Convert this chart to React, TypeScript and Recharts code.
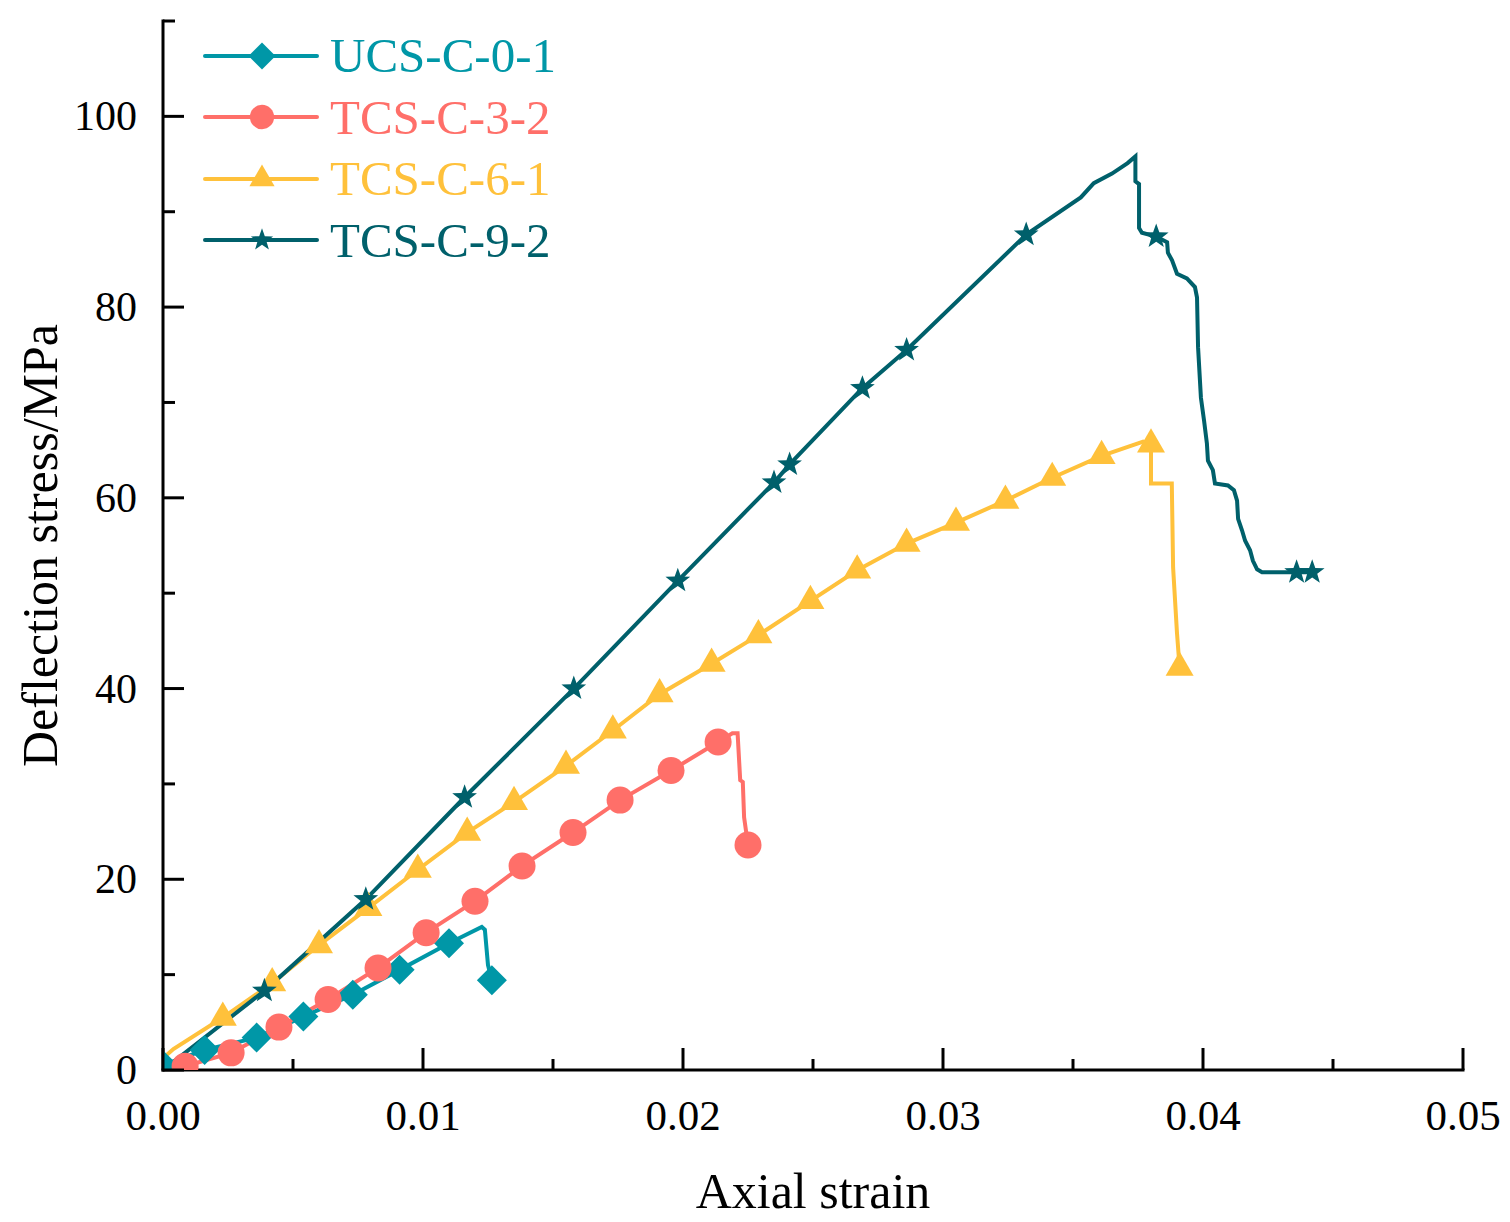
import React from 'react';
import { ComposedChart, Line, Scatter, XAxis, YAxis, Legend } from 'recharts';

if (typeof document !== 'undefined') document.body.style.margin = '0';

const FONT = '"Liberation Serif", "Times New Roman", serif';

const SERIES_NAMES = ['UCS-C-0-1', 'TCS-C-3-2', 'TCS-C-6-1', 'TCS-C-9-2'];
const SERIES_COLORS = ['#0097A7', '#FF6F69', '#FFC13B', '#00606B'];
const SERIES_MARKERS = ['diamond', 'circle', 'triangle', 'star'];

// [axial strain, deflection stress MPa]
const ucs01: [number, number][] = [
  [0, 0.5], [0.0016, 2.1], [0.0036, 3.4], [0.0054, 5.6], [0.0073, 7.9],
  [0.0091, 10.5], [0.011, 13.3], [0.01226, 15.0], [0.01238, 14.7],
  [0.0125, 11.0], [0.01265, 9.4],
];
const ucs01Marks = [0, 1, 2, 3, 4, 5, 6, 10];

const tcs32: [number, number][] = [
  [0, 0], [0.00085, 0.4], [0.00262, 1.8], [0.00446, 4.5], [0.00635, 7.4],
  [0.00827, 10.7], [0.01012, 14.4], [0.012, 17.7], [0.01381, 21.4],
  [0.01577, 24.9], [0.01758, 28.3], [0.01954, 31.4], [0.02135, 34.4],
  [0.0219, 35.3], [0.0221, 35.3], [0.0222, 30.4], [0.0223, 30.2],
  [0.02235, 26.5], [0.0225, 23.6],
];
const tcs32Marks = [1, 2, 3, 4, 5, 6, 7, 8, 9, 10, 11, 12, 18];

const tcs61: [number, number][] = [
  [0, 0], [0.00015, 1.6], [0.0004, 2.2], [0.0023, 5.5], [0.0042, 9.1],
  [0.006, 13.1], [0.0079, 17.0], [0.0098, 21.0], [0.0117, 24.9],
  [0.0135, 28.1], [0.0155, 31.9], [0.0173, 35.6], [0.0191, 39.4],
  [0.0211, 42.6], [0.0229, 45.6], [0.0249, 49.2], [0.0267, 52.4],
  [0.0286, 55.2], [0.0305, 57.4], [0.0324, 59.7], [0.0342, 62.1],
  [0.0361, 64.4], [0.0377, 65.9], [0.038, 65.6], [0.038, 61.5],
  [0.0388, 61.5], [0.03885, 52.7], [0.039, 45.8], [0.0391, 42.2],
];
const tcs61Marks = [3, 4, 5, 6, 7, 8, 9, 10, 11, 12, 13, 14, 15, 16, 17, 18, 19, 20, 21, 23, 28];

const tcs92: [number, number][] = [
  [0, 0], [0.0039, 8.3], [0.0078, 17.9], [0.0116, 28.6], [0.0158, 40.0],
  [0.0198, 51.3], [0.0235, 61.6], [0.0241, 63.5], [0.0269, 71.5],
  [0.0286, 75.5], [0.0332, 87.6], [0.0353, 91.5], [0.0358, 93.0],
  [0.0365, 94.0], [0.0371, 95.1], [0.0374, 95.8], [0.0374, 93.2],
  [0.03754, 92.9], [0.03754, 88.3], [0.03765, 87.8], [0.0382, 87.4],
  [0.03862, 86.8], [0.03865, 85.7], [0.03881, 84.9], [0.039, 83.5],
  [0.03938, 83.0], [0.03969, 82.1], [0.03977, 81.0], [0.03981, 75.8],
  [0.03992, 70.5], [0.04004, 68.1], [0.04015, 65.7], [0.04019, 63.9],
  [0.04038, 62.9], [0.04046, 61.5], [0.04096, 61.3], [0.04119, 60.8],
  [0.04131, 59.7], [0.04135, 57.8], [0.0415, 56.6], [0.04162, 55.5],
  [0.04181, 54.5], [0.04192, 53.4], [0.04208, 52.5], [0.04227, 52.2],
  [0.0436, 52.2], [0.0442, 52.2],
];
const tcs92Marks = [1, 2, 3, 4, 5, 6, 7, 8, 9, 10, 20, 45, 46];

const SERIES_POINTS = [ucs01, tcs32, tcs61, tcs92];
const SERIES_MARKS = [ucs01Marks, tcs32Marks, tcs61Marks, tcs92Marks];

const X_TICKS = [0, 0.005, 0.01, 0.015, 0.02, 0.025, 0.03, 0.035, 0.04, 0.045, 0.05];
const Y_TICKS = [0, 10, 20, 30, 40, 50, 60, 70, 80, 90, 100, 110];

function Marker({ kind, cx, cy, fill, s = 1 }: { kind: string; cx: number; cy: number; fill: string; s?: number }) {
  if (cx == null || cy == null) return null;
  if (kind === 'diamond') {
    const h = 15 * s;
    return <path d={`M${cx},${cy - h}L${cx + h},${cy}L${cx},${cy + h}L${cx - h},${cy}Z`} fill={fill} />;
  }
  if (kind === 'circle') return <circle cx={cx} cy={cy} r={13.5 * s} fill={fill} />;
  if (kind === 'triangle') {
    const side = 28 * s;
    const h = side * 0.866;
    return (
      <path
        d={`M${cx},${cy - (2 * h) / 3}L${cx + side / 2},${cy + h / 3}L${cx - side / 2},${cy + h / 3}Z`}
        fill={fill}
      />
    );
  }
  // star
  const outer = 13 * s;
  const inner = 5.3 * s;
  let d = '';
  for (let k = 0; k < 10; k++) {
    const r = k % 2 === 0 ? outer : inner;
    const a = -Math.PI / 2 + (k * Math.PI) / 5;
    d += `${k === 0 ? 'M' : 'L'}${cx + r * Math.cos(a)},${cy + r * Math.sin(a)}`;
  }
  return <path d={d + 'Z'} fill={fill} />;
}

function XTick({ x, y, payload }: any) {
  const v = payload.value;
  const major = Math.round(v * 1000) % 10 === 0;
  return (
    <g>
      <line x1={x} x2={x} y1={y} y2={y - (major ? 22 : 11)} stroke="#000" strokeWidth={3} />
      {major && (
        <text x={x} y={y + 60} textAnchor="middle" fontFamily={FONT} fontSize={43} fill="#000">
          {v.toFixed(2)}
        </text>
      )}
    </g>
  );
}

function YTick({ x, y, payload }: any) {
  const v = payload.value;
  const major = v % 20 === 0;
  return (
    <g>
      <line x1={x} x2={x + (major ? 21 : 12)} y1={y} y2={y} stroke="#000" strokeWidth={3} />
      {major && v <= 100 && (
        <text x={x - 26} y={y + 14} textAnchor="end" fontFamily={FONT} fontSize={42} fill="#000">
          {v}
        </text>
      )}
    </g>
  );
}

function renderLegend() {
  return (
    <div style={{ display: 'flex', flexDirection: 'column' }}>
      {SERIES_NAMES.map((name, i) => (
        <div key={name} style={{ display: 'flex', alignItems: 'center', height: 61.5 }}>
          <svg width={116} height={40}>
            <line x1={2} x2={114} y1={20} y2={20} stroke={SERIES_COLORS[i]} strokeWidth={4} strokeLinecap="round" />
            <Marker kind={SERIES_MARKERS[i]} cx={59} cy={20} fill={SERIES_COLORS[i]} s={0.9} />
          </svg>
          <span style={{ marginLeft: 11, fontFamily: FONT, fontSize: 49, color: SERIES_COLORS[i], whiteSpace: 'nowrap' }}>
            {name}
          </span>
        </div>
      ))}
    </div>
  );
}

export default function App() {
  const axisLine = { stroke: '#000', strokeWidth: 3, strokeLinecap: 'square' as const };
  return (
    <div style={{ width: 1510, height: 1222, background: '#fff' }}>
      <ComposedChart width={1510} height={1222} margin={{ top: 21, right: 47, bottom: 0, left: 0 }}>
        <XAxis
          dataKey="x"
          type="number"
          domain={[0, 0.05]}
          ticks={X_TICKS}
          interval={0}
          allowDataOverflow
          height={152}
          tickLine={false}
          tickSize={0}
          tickMargin={0}
          axisLine={axisLine}
          tick={<XTick />}
          label={(p: any) => (
            <text
              x={p.viewBox.x + p.viewBox.width / 2}
              y={p.viewBox.y + 138}
              textAnchor="middle"
              fontFamily={FONT}
              fontSize={50}
              fill="#000"
            >
              Axial strain
            </text>
          )}
        />
        <YAxis
          dataKey="y"
          type="number"
          domain={[0, 110]}
          ticks={Y_TICKS}
          interval={0}
          allowDataOverflow
          width={163}
          tickLine={false}
          tickSize={0}
          tickMargin={0}
          axisLine={axisLine}
          tick={<YTick />}
          label={(p: any) => {
            const cy = p.viewBox.y + p.viewBox.height / 2;
            return (
              <text
                x={57}
                y={cy}
                transform={`rotate(-90, 57, ${cy})`}
                textAnchor="middle"
                fontFamily={FONT}
                fontSize={50}
                fill="#000"
              >
                Deflection stress/MPa
              </text>
            );
          }}
        />
        <Legend
          layout="vertical"
          align="center"
          verticalAlign="middle"
          content={renderLegend}
          wrapperStyle={{ left: 203, top: 25, width: 'auto', height: 'auto' }}
        />
        {SERIES_POINTS.flatMap((pts, i) => {
          const lineData = pts.map(([x, y]) => ({ x, y }));
          const markData = SERIES_MARKS[i].map((k) => ({ x: pts[k][0], y: pts[k][1] }));
          return [
            <Line
              key={`l${i}`}
              data={lineData}
              dataKey="y"
              type="linear"
              stroke={SERIES_COLORS[i]}
              strokeWidth={4}
              dot={false}
              activeDot={false}
              isAnimationActive={false}
              legendType="none"
            />,
            <Scatter
              key={`s${i}`}
              data={markData}
              dataKey="y"
              isAnimationActive={false}
              legendType="none"
              shape={(p: any) => <Marker kind={SERIES_MARKERS[i]} cx={p.cx} cy={p.cy} fill={SERIES_COLORS[i]} />}
            />,
          ];
        })}
      </ComposedChart>
    </div>
  );
}
